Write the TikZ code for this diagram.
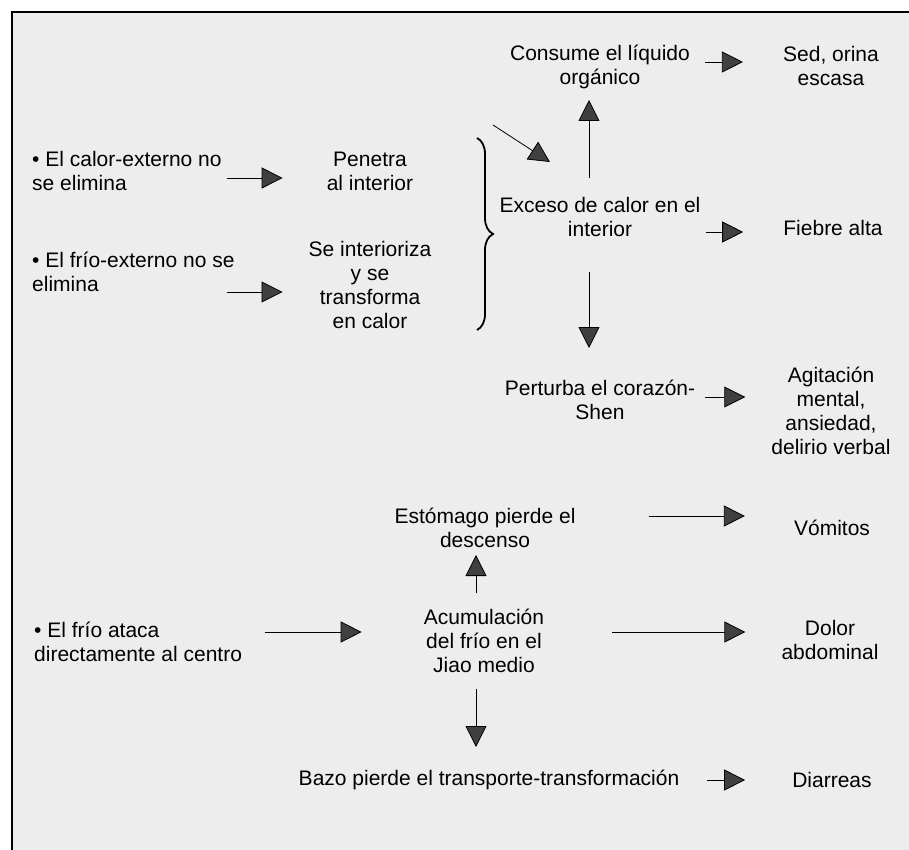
\documentclass[tikz,border=0pt]{standalone}
\usepackage{fontspec}
\setmainfont{Liberation Sans}
\usetikzlibrary{arrows.meta,decorations.pathreplacing}

\begin{document}
\begin{tikzpicture}[x=1pt,y=-1pt,
		texto/.style={font=\fontsize{21}{24}\selectfont, inner sep=0pt, align=center},
		izq/.style={texto, align=left, anchor=west},
		flecha/.style={-{Triangle[length=21pt,width=21pt,fill=black!75]}, line width=0.8pt},
		llaves/.style={decorate, decoration={brace,amplitude=16pt}, line width=1.8pt}]
		
		\useasboundingbox (0,0) rectangle (909,850);
		\fill[black!7] (12,12) rectangle (909,850);
		\draw[line width=2pt] (12,850) -- (12,12) -- (909,12);
		
		% calor en el interior
		\node[izq] (CalorExt) at (32,171) {• El calor-externo no\\se elimina};
		\node[izq] (FrioExt) at (32,272) {• El frío-externo no se\\elimina};
		\node[texto] (Penetra) at (370,171) {Penetra\\al interior};
		\node[texto] (Interioriza) at (370,285) {Se interioriza\\y se\\transforma\\en calor};
		\draw[llaves] (477,138) -- (477,330);
		\coordinate (Llave) at (493,125);
		\node[texto] (Exceso) at (600,217) {Exceso de calor en el\\interior};
		\node[texto] (Consume) at (600,67) {Consume el líquido\\orgánico};
		\node[texto] (Sed) at (831,66) {Sed, orina\\escasa};
		\node[texto] (Fiebre) at (833,228) {Fiebre alta};
		\node[texto] (Perturba) at (600,400) {Perturba el corazón-\\Shen};
		\node[texto] (Agitacion) at (831,411) {Agitación\\mental,\\ansiedad,\\delirio verbal};
		
		\draw[flecha] ([shift={(5,7)}]CalorExt.east) -- ([shift={(-44,7)}]Penetra.west);
		\draw[flecha] ([shift={(-8,20)}]FrioExt.east) -- ([shift={(-26,7)}]Interioriza.west);
		\draw[flecha] (Llave) -- ([shift={(-50,-55)}]Exceso.center);
		\draw[flecha] ([shift={(-11,-39)}]Exceso.center) -- ([shift={(-11,33)}]Consume.center);
		\draw[flecha] ([shift={(15,-5)}]Consume.east) -- ([shift={(-40,-4)}]Sed.west);
		\draw[flecha] ([shift={(5,15)}]Exceso.east) -- ([shift={(-40,4)}]Fiebre.west);
		\draw[flecha] ([shift={(-11,55)}]Exceso.center) -- ([shift={(-11,-52)}]Perturba.center);
		\draw[flecha] ([shift={(10,-3)}]Perturba.east) -- ([shift={(-26,-14)}]Agitacion.west);
		
		% frio en el Jiao medio
		\node[izq] (FrioAtaca) at (34,642) {• El frío ataca\\directamente al centro};
		\node[texto] (Acumulacion) at (484,641) {Acumulación\\del frío en el\\Jiao medio};
		\node[texto] (Estomago) at (485,528) {Estómago pierde el\\descenso};
		\node[texto] (Bazo) at (489,780) {Bazo pierde el transporte-transformación};
		\node[texto] (Vomitos) at (832,528) {Vómitos};
		\node[texto] (Dolor) at (830,640) {Dolor\\abdominal};
		\node[texto] (Diarreas) at (832,780) {Diarreas};
		
		\draw[flecha] ([shift={(23,-10)}]FrioAtaca.east) -- ([shift={(-62,-9)}]Acumulacion.west);
		\draw[flecha] ([shift={(-8,-48)}]Acumulacion.center) -- ([shift={(-9,27)}]Estomago.center);
		\draw[flecha] ([shift={(73,-12)}]Estomago.east) -- ([shift={(-49,-12)}]Vomitos.west);
		\draw[flecha] ([shift={(68,-9)}]Acumulacion.east) -- ([shift={(-36,-8)}]Dolor.west);
		\draw[flecha] ([shift={(-8,48)}]Acumulacion.center) -- ([shift={(-13,-33)}]Bazo.center);
		\draw[flecha] ([shift={(28,0)}]Bazo.east) -- ([shift={(-47,0)}]Diarreas.west);
		
	\end{tikzpicture}
\end{document}
